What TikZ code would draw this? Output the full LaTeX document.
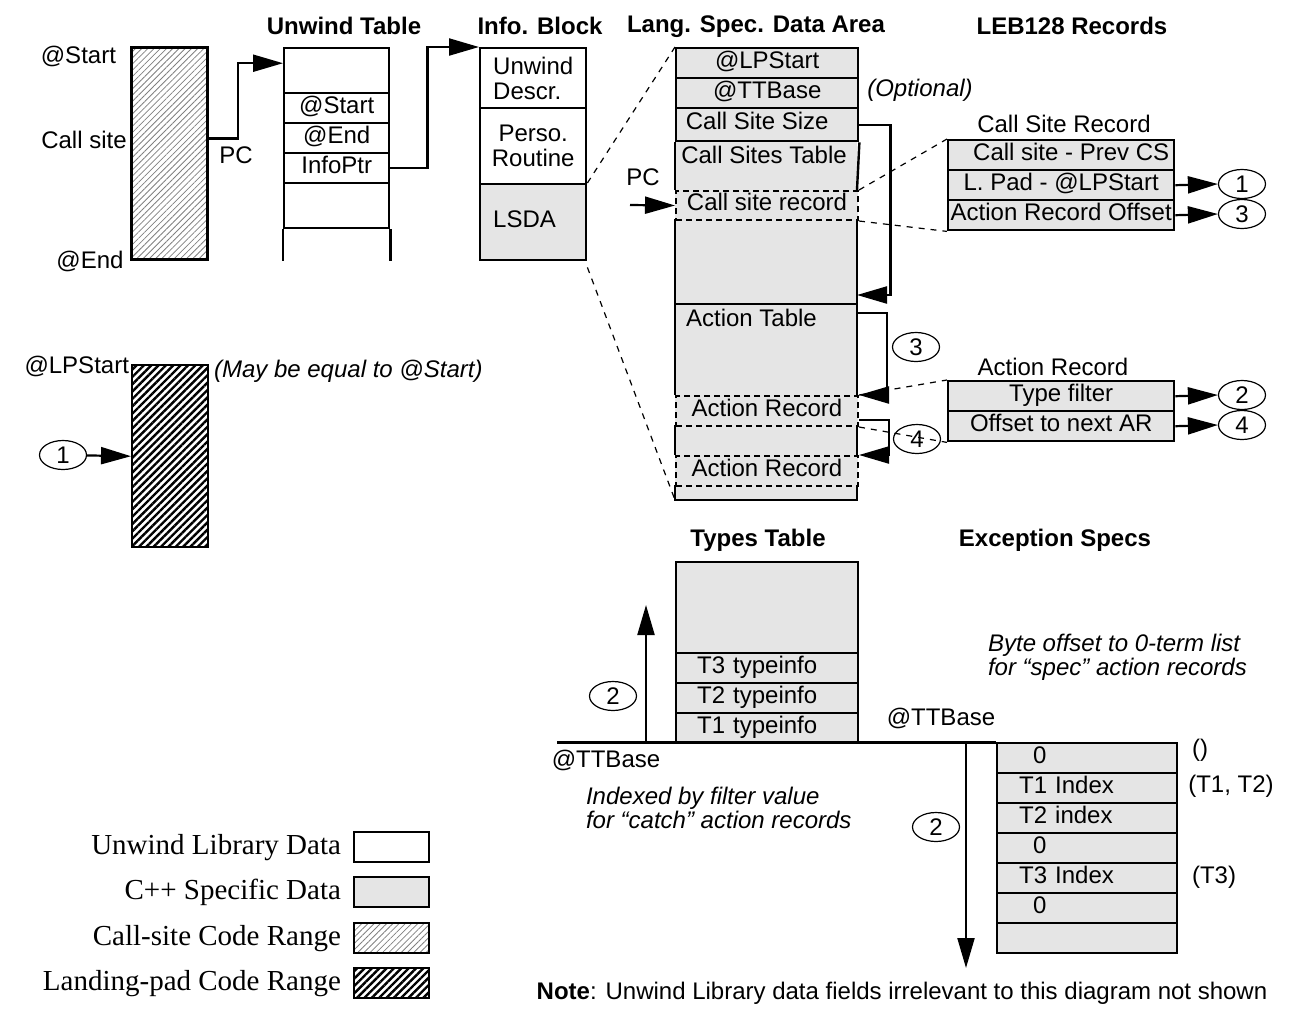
\documentclass[tikz,border=0pt]{standalone}
\usepackage{fontspec}
\setmainfont{Liberation Sans}
\newfontfamily\legendfont{Liberation Serif}
\usetikzlibrary{arrows.meta,shapes.geometric,patterns.meta}
\begin{document}
\begin{tikzpicture}[x=0.5pt,y=-0.5pt]
  \tikzset{every node/.style = {font = \fontsize{12}{12.5}\selectfont}}
  \tikzset{TitleStyle/.style = {font = \fontsize{12}{12.5}\selectfont\bfseries}}
  \tikzset{ItalicStyle/.style = {font = \fontsize{12}{12}\selectfont\itshape}}
  \tikzset{LegendStyle/.style = {anchor = east,
                                 font   = \legendfont\fontsize{14.5}{16}\selectfont}}
  \tikzset{RowStyle/.style = {draw,
                              line width     = 1.2pt,
                              anchor         = north west,
                              inner sep      = 0pt,
                              minimum height = 15pt}}
  \tikzset{LineRow/.style = {RowStyle,
                             text height = 9pt,
                             text depth  = 4pt}}
  \tikzset{GrayRow/.style = {LineRow,
                             fill = gray!20}}
  \tikzset{RecordStyle/.style = {GrayRow,
                                 line width   = 1pt,
                                 dash pattern = on 3pt off 2pt,
                                 minimum width = 91pt}}
  \tikzset{TypeRow/.style = {GrayRow,
                             minimum width = 91pt,
                             text width    = 70pt,
                             align         = left}}
  \tikzset{ExRow/.style = {GrayRow,
                           minimum width = 90pt,
                           text width    = 68pt,
                           align         = left}}
  \tikzset{RefStyle/.style = {draw, ellipse,
                              line width     = 0.6pt,
                              inner sep      = 0pt,
                              minimum width  = 23.5pt,
                              minimum height = 14.5pt}}
  \tikzset{ArrowStyle/.style = {line width = 1.1pt,
                                -{Triangle[length = 15pt, width = 8.5pt]}}}
  \tikzset{DotStyle/.style = {line width = 0.6pt,
                              dash pattern = on 3pt off 3pt}}
  \tikzset{BoxLine/.style = {line width = 1.2pt}}
  \tikzset{LightHatch/.style = {pattern = {Lines[angle = 45, distance = 2.2pt, line width = 0.4pt]},
                                pattern color = gray}}
  \tikzset{DenseHatch/.style = {pattern = {Lines[angle = 45, distance = 2.6pt, line width = 1.2pt]},
                                pattern color = black}}

\useasboundingbox (0,0) rectangle (1298,1024);

% titles
\node[TitleStyle] (tUnwind) at (344,26) {Unwind Table};
\node[TitleStyle] (tInfo) at (540,26) {Info. Block};
\node[TitleStyle] (tLsda) at (756,27) {Lang. Spec. Data Area};
\node[TitleStyle] (tLeb) at (1072,26) {LEB128 Records};
\node[TitleStyle] (tTypes) at (758,540) {Types Table};
\node[TitleStyle] (tExc) at (1055,540) {Exception Specs};

% code ranges
\node[RowStyle, LightHatch, minimum width = 38pt, minimum height = 106pt] (callsite) at (131,47) {};
\node[anchor = east] (lStart) at (123,56) {@Start};
\node (lCall) at (84,140) {Call site};
\node (lEnd) at (90,261) {@End};
\node (lPC) at (236,155) {PC};

\node[RowStyle, DenseHatch, minimum width = 38pt, minimum height = 91pt] (landpad) at (131,364) {};
\node[anchor = east] (lLP) at (136,366) {@LPStart};
\node[ItalicStyle, anchor = west] (lEq) at (207,371) {(May be equal to @Start)};
\node[RefStyle] (c1b) at (63,455) {1};
\draw[ArrowStyle] (c1b) -- (landpad.west);

% unwind table
\node[RowStyle, minimum width = 52.5pt, minimum height = 22.5pt] (ut0) at (283,47) {};
\node[LineRow, minimum width = 52.5pt] (ut1) at (283,92) {@Start};
\node[LineRow, minimum width = 52.5pt] (ut2) at (283,122) {@End};
\node[LineRow, minimum width = 52.5pt] (ut3) at (283,152) {InfoPtr};
\node[RowStyle, minimum width = 52.5pt, minimum height = 22.5pt] (ut4) at (283,182) {};
\draw[BoxLine] (ut4.south west) -- ++(0,32);
\draw[BoxLine] (ut4.south east) -- ++(0,32);

% info block
\node[RowStyle, minimum width = 53pt, minimum height = 30pt, text width = 40pt, align = left] (ib1) at (479,47) {Unwind\\Descr.\\[-2pt]};
\node[RowStyle, minimum width = 53pt, minimum height = 38pt, align = center] (ib2) at (479,107) {Perso.\\Routine};
\node[GrayRow, minimum width = 53pt, minimum height = 38pt, text width = 40pt, align = left] (lsda) at (479,183) {LSDA};

\draw[ArrowStyle] ([yshift = 7.5pt]callsite.east) -- ++(30,0) |- ([yshift = 3.75pt]ut0.west);
\draw[ArrowStyle] (ut3.east) -- ++(37,0) |- (ib1.north west);

% lang. spec. data area
\coordinate (lsdaBL) at (675,500);
\coordinate (lsdaBR) at (857,500);
\node[GrayRow, minimum width = 91pt] (lpstart) at (675,47) {@LPStart};
\node[GrayRow, minimum width = 91pt] (ttbase) at (675,77) {@TTBase};
\node[GrayRow, minimum width = 91pt, minimum height = 16.5pt] (cssize) at (675,107) {\hspace*{-10pt}Call Site Size};
\fill[gray!20] (cssize.south west) rectangle (lsdaBR);
\draw[BoxLine] (cssize.south west) -- (675,190);
\draw[BoxLine] (cssize.south east) -- (857,190);
\draw[BoxLine] (675,219) -- (675,395);
\draw[BoxLine] (857,219) -- (857,395);
\draw[BoxLine] (675,304) -- (857,304);
\draw[BoxLine] (675,425) -- (675,455);
\draw[BoxLine] (857,425) -- (857,455);
\draw[BoxLine] (675,485) -- (lsdaBL) -- (lsdaBR) -- (857,485);
\node[RecordStyle, minimum height = 14.5pt] (csrec) at (675,190) {Call site record};
\node[RecordStyle] (ar1) at (675,395) {Action Record};
\node[RecordStyle] (ar2) at (675,455) {Action Record};
\node (cstText) at (764,155) {Call Sites Table};
\node[anchor = west] (atText) at (679,318) {Action Table};
\node[ItalicStyle] (lOpt) at (920,90) {(Optional)};

\draw[DotStyle] (lsda.north east) -- (lpstart.north west);
\draw[DotStyle] ([yshift = -3pt]lsda.south east) -- (lsdaBL);

\coordinate (pcIn) at (630,205);
\node (lPC2) at (643,177) {PC};
\draw[ArrowStyle] (pcIn) -- (csrec.west);

\coordinate (cstEnd) at (857,295);
\coordinate (atOut) at (857,313);
\draw[ArrowStyle] (cssize.east) -- ++(31,0) |- (cstEnd);
\draw[ArrowStyle] (atOut) -- ++(30,0) |- (ar1.north east);
\draw[ArrowStyle] ([yshift = 3.5pt]ar1.south east) -- ++(30,0) |- (ar2.north east);
\node[RefStyle] (c3b) at (916,347) {3};
\node[RefStyle] (c4b) at (917,439) {4};

% call site record
\node (csrTitle) at (1064,124) {Call Site Record};
\node[GrayRow, minimum width = 113pt] (csr1) at (947,139) {\hspace*{10pt}Call site - Prev CS};
\node[GrayRow, minimum width = 113pt] (csr2) at (947,169) {L. Pad - @LPStart};
\node[GrayRow, minimum width = 113pt] (csr3) at (947,199) {Action Record Offset};
\node[RefStyle] (c1a) at (1242,184) {1};
\node[RefStyle] (c3a) at (1242,214) {3};
\draw[ArrowStyle] (csr2.east) -- (c1a.west);
\draw[ArrowStyle] (csr3.east) -- (c3a.west);
\draw[DotStyle] (csrec.north east) -- (csr1.north west);
\draw[DotStyle] (csrec.south east) -- (csr3.south west);

% action record
\node (arTitle) at (1053,367) {Action Record};
\node[GrayRow, minimum width = 113pt] (tf) at (947,380) {Type filter};
\node[GrayRow, minimum width = 113pt] (ofs) at (947,410) {Offset to next AR};
\node[RefStyle] (c2a) at (1242,395) {2};
\node[RefStyle] (c4a) at (1242,425) {4};
\draw[ArrowStyle] (tf.east) -- (c2a.west);
\draw[ArrowStyle] (ofs.east) -- (c4a.west);
\draw[DotStyle] (ar1.north east) -- (tf.north west);
\draw[DotStyle] (ar1.south east) -- (ofs.south west);

% types table
\node[GrayRow, minimum width = 91pt, minimum height = 45.5pt] (ttop) at (675,561) {};
\node[TypeRow] (t3) at (675,652) {T3 typeinfo};
\node[TypeRow] (t2) at (675,682) {T2 typeinfo};
\node[TypeRow] (t1) at (675,712) {T1 typeinfo};

\coordinate (baseL) at (557,742);
\coordinate (upFoot) at (646,742);
\coordinate (upTip) at (646,605);
\coordinate (downTop) at (966,742);
\coordinate (downTip) at (966,968);
\draw[ArrowStyle] (upFoot) -- (upTip);
\node[RefStyle] (c2b) at (613,696) {2};
\node (lTTl) at (606,760) {@TTBase};
\node[ItalicStyle, anchor = west, align = left] (lIdx) at (579,808) {Indexed by filter value\\for “catch” action records};

% exception specs
\node[ItalicStyle, anchor = west, align = left] (lByte) at (981,657) {Byte offset to 0-term list\\for “spec” action records};
\node (lTTr) at (941,718) {@TTBase};
\node[ExRow] (e0) at (996,742) {\hspace*{7pt}0};
\node[ExRow] (e1) at (996,772) {T1 Index};
\node[ExRow] (e2) at (996,802) {T2 index};
\node[ExRow] (e3) at (996,832) {\hspace*{7pt}0};
\node[ExRow] (e4) at (996,862) {T3 Index};
\node[ExRow] (e5) at (996,892) {\hspace*{7pt}0};
\node[ExRow] (e6) at (996,922) {};
\node (lE0) at (1200,750) {()};
\node (lE1) at (1231,786) {(T1, T2)};
\node (lE4) at (1214,877) {(T3)};
\draw[line width = 1.5pt] (baseL) -- (e0.north west);
\draw[ArrowStyle] (downTop) -- (downTip);
\node[RefStyle] (c2c) at (936,827) {2};

% legend
\node[RowStyle, minimum width = 37.5pt] (lg1) at (353,831) {};
\node[GrayRow, minimum width = 37.5pt] (lg2) at (353,876) {};
\node[RowStyle, LightHatch, minimum width = 37.5pt] (lg3) at (353,922) {};
\node[RowStyle, DenseHatch, minimum width = 37.5pt] (lg4) at (353,967) {};
\node[LegendStyle] (lgt1) at ([xshift = -2.5pt]lg1.west) {Unwind Library Data};
\node[LegendStyle] (lgt2) at ([xshift = -2.5pt]lg2.west) {C++ Specific Data};
\node[LegendStyle] (lgt3) at ([xshift = -2.5pt]lg3.west) {Call-site Code Range};
\node[LegendStyle] (lgt4) at ([xshift = -2.5pt]lg4.west) {Landing-pad Code Range};

\node (note) at (902,993) {\textbf{Note}: Unwind Library data fields irrelevant to this diagram not shown};
\end{tikzpicture}
\end{document}
